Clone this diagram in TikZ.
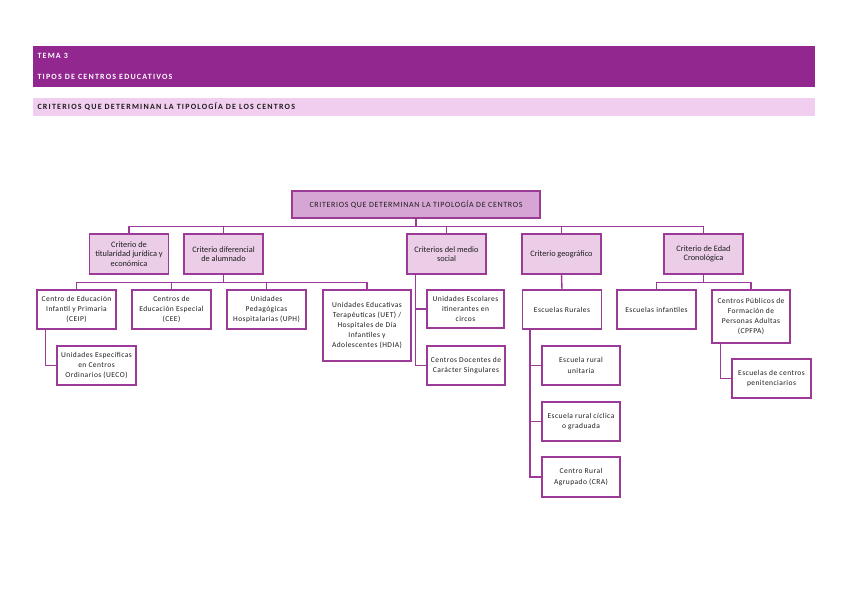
\documentclass[tikz,border=0pt]{standalone}
\usepackage{fontspec}
\setmainfont{Carlito}
\newfontfamily\spaced[LetterSpace=15]{Carlito}
\newfontfamily\rootspaced[LetterSpace=8]{Carlito}
\newfontfamily\loose[LetterSpace=6]{Carlito}
\usetikzlibrary{positioning}
\definecolor{plum}{HTML}{92278F}
\definecolor{plumline}{HTML}{9B3A97}
\definecolor{rootfill}{HTML}{D7A5D3}
\definecolor{critfill}{HTML}{EBCDE8}
\definecolor{barfill}{HTML}{F1CDEF}
\definecolor{ink}{HTML}{1E1E1E}
\tikzset{
  rootbox/.style={draw=plumline, line width=1.4pt, fill=rootfill, minimum width=248pt, minimum height=27pt, align=center, font=\rootspaced\fontsize{8}{9}\selectfont, text=ink},
  critbox/.style={draw=plumline, line width=1.4pt, fill=critfill, minimum width=79pt, minimum height=40pt, inner sep=1pt, align=center, font=\fontsize{8.3}{9.5}\selectfont, text=ink},
  leafbox/.style={draw=plumline, line width=1.4pt, fill=white, minimum width=79pt, minimum height=39pt, inner sep=1pt, align=center, font=\loose\fontsize{7.5}{10.2}\selectfont, text=ink},
  link/.style={draw=plumline, line width=1.4pt},
  hdr/.style={anchor=west, font=\spaced\bfseries\fontsize{8}{9}\selectfont}
}
\begin{document}
\begin{tikzpicture}[x=1pt,y=-1pt]
\useasboundingbox (0,0) rectangle (848,599);
% cabecera
\fill[plum] (33,46) rectangle (815,87);
\fill[barfill] (33,98) rectangle (815,116);
\node[hdr, text=white] (tema) at (34,56) {TEMA 3};
\node[hdr, text=white] (tipos) at (34,77) {TIPOS DE CENTROS EDUCATIVOS};
\node[hdr, text=ink] (crit) at (34,107) {CRITERIOS QUE DETERMINAN LA TIPOLOGÍA DE LOS CENTROS};
% raiz y criterios
\node[rootbox] (root) at (416,204.5) {CRITERIOS QUE DETERMINAN LA TIPOLOGÍA DE CENTROS};
\node[critbox] (c1) at (129,254) {Criterio de\\titularidad jurídica y\\económica};
\node[critbox] (c2) at (223.5,254) {Criterio diferencial\\de alumnado};
\node[critbox] (c3) at (446.5,254) {Criterios del medio\\social};
\node[critbox] (c4) at (561.5,254) {Criterio geográfico};
\node[critbox] (c5) at (703.5,254) {Criterio de Edad\\Cronológica};
\foreach \c in {c1,c2,c3,c4,c5}
  \draw[link] (root.south) -- ++(0,8) -| (\c.north);
% alumnado
\node[leafbox] (ceip) at (76.5,309.5) {Centro de Educación\\Infantil y Primaria\\(CEIP)};
\node[leafbox] (cee) at (171.5,309.5) {Centros de\\Educación Especial\\(CEE)};
\node[leafbox] (uph) at (266.5,309.5) {Unidades\\Pedagógicas\\Hospitalarias (UPH)};
\node[leafbox, minimum width=88pt, minimum height=71pt] (uet) at (367,325.5) {Unidades Educativas\\Terapéuticas (UET) /\\Hospitales de Día\\Infantiles y\\Adolescentes (HDIA)};
\node[leafbox] (ueco) at (96.5,365.5) {Unidades Específicas\\en Centros\\Ordinarios (UECO)};
\foreach \c in {ceip,cee,uph,uet}
  \draw[link] (c2.south) -- ++(0,8) -| (\c.north);
\draw[link] (ceip.south west) ++(9,0) |- (ueco.west);
% medio social
\node[leafbox, minimum width=77pt, minimum height=38pt] (circ) at (465.5,309) {Unidades Escolares\\itinerantes en\\circos};
\node[leafbox, minimum width=78pt] (sing) at (466,365.5) {Centros Docentes de\\Carácter Singulares};
\draw[link] (c3.south west) ++(9,0) |- (circ.west);
\draw[link] (c3.south west) ++(9,0) |- (sing.west);
% geografico
\node[leafbox] (rur) at (562,309.5) {Escuelas Rurales};
\node[leafbox, minimum width=78pt] (r1) at (581,365.5) {Escuela rural\\unitaria};
\node[leafbox, minimum width=78pt] (r2) at (581,421.5) {Escuela rural cíclica\\o graduada};
\node[leafbox, minimum width=78pt, minimum height=40pt] (r3) at (581,477) {Centro Rural\\Agrupado (CRA)};
\draw[link] (c4.south) -- (rur.north);
\foreach \r in {r1,r2,r3}
  \draw[link] (rur.south west) ++(8,0) |- (\r.west);
% edad
\node[leafbox] (inf) at (656.5,309.5) {Escuelas infantiles};
\node[leafbox, minimum width=78pt, minimum height=53pt] (adul) at (751,316.5) {Centros Públicos de\\Formación de\\Personas Adultas\\(CPFPA)};
\node[leafbox] (pen) at (771.5,378.5) {Escuelas de centros\\penitenciarios};
\foreach \c in {inf,adul}
  \draw[link] (c5.south) -- ++(0,8) -| (\c.north);
\draw[link] (adul.south west) ++(9,0) |- (pen.west);
\end{tikzpicture}
\end{document}
